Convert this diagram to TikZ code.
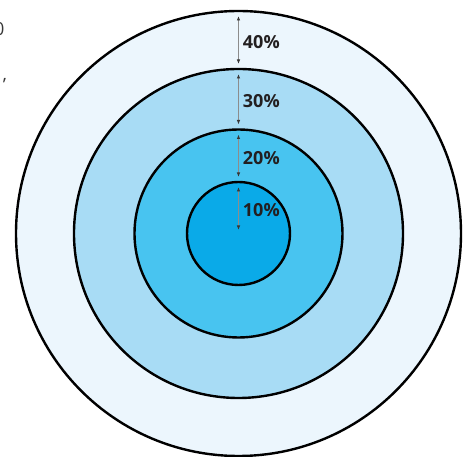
\documentclass[tikz,border=0pt]{standalone}
\usepackage{fontspec}
\setmainfont{Open Sans}
\usepackage{xcolor}
\usepackage{tikz}
\usetikzlibrary{arrows.meta}
\definecolor{paleblue}{RGB}{236,246,253}
\definecolor{lightblue}{RGB}{168,220,245}
\definecolor{midblue}{RGB}{72,196,240}
\definecolor{deepblue}{RGB}{10,170,232}
\definecolor{gaugegray}{RGB}{140,140,140}
\definecolor{tipgray}{RGB}{55,55,55}
\definecolor{inkgray}{RGB}{35,31,32}
\tikzset{
  ring/.style={circle,draw=black,line width=2.4pt,inner sep=0pt,outer sep=0pt},
  gauge/.style={{Latex[length=4.5pt,width=3.5pt,color=tipgray]}-{Latex[length=4.5pt,width=3.5pt,color=tipgray]},
    draw=gaugegray,line width=0.9pt,shorten <=5pt,shorten >=5pt},
  pct/.style={anchor=west,inner sep=0pt,xshift=4pt,yshift=-2pt,text=inkgray,
    font=\fontsize{18}{20}\selectfont\bfseries},
  fragment/.style={inner sep=0pt,text=tipgray,font=\fontsize{18}{20}\selectfont}
}

\begin{document}
\begin{tikzpicture}[x=1pt,y=1pt]
  \useasboundingbox (-238.5,-223.5) rectangle (227.5,233.5);
  % Rings, largest first
  \foreach \name/\r/\col in {ring40/222.5/paleblue,ring30/164.5/lightblue,
                             ring20/104/midblue,ring10/51.5/deepblue}{
    \node[ring,fill=\col,minimum size={2*\r pt}] (\name) at (0,0) {};
  }
  % Cut-off text at the left edge
  \node[fragment,anchor=east] (cutzero) at (-234,204) {0};
  \node[fragment,anchor=base west] (cutcomma) at (-236,153) {,};
  % Share gauges
  \draw[gauge] (ring40.north) -- node[pct] {40\%} (ring30.north);
  \draw[gauge] (ring30.north) -- node[pct] {30\%} (ring20.north);
  \draw[gauge] (ring20.north) -- node[pct] {20\%} (ring10.north);
  \draw[gauge,shorten >=3.5pt] (ring10.north) -- node[pct] {10\%} (ring10.center);
\end{tikzpicture}
\end{document}
